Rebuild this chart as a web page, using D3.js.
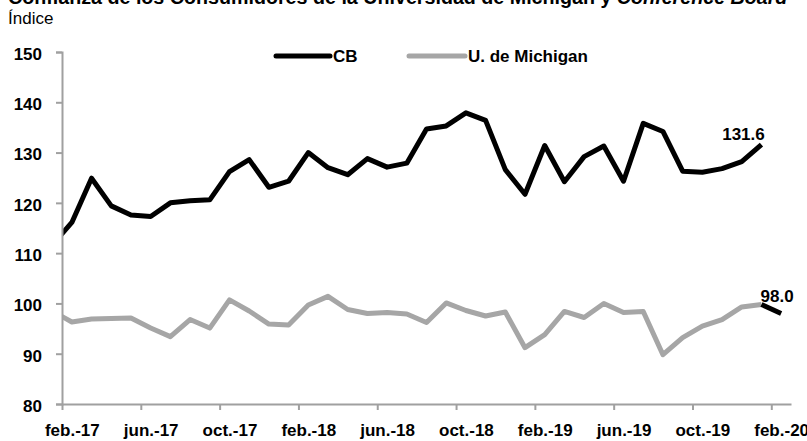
<!DOCTYPE html>
<html>
<head>
<meta charset="utf-8">
<script src="https://cdn.jsdelivr.net/npm/d3@7"></script>
<style>
  body { margin: 0; background: #fff; }
  svg { display: block; font-family: "Liberation Sans", Arial, sans-serif; }
</style>
</head>
<body>
<script>
// meses: ene.-17 queda fuera del área (se recorta en el eje), igual que el original
const months = [
  "ene.-17", "feb.-17", "mar.-17", "abr.-17", "may.-17", "jun.-17", "jul.-17", "ago.-17", "sep.-17", "oct.-17", "nov.-17", "dic.-17",
  "ene.-18", "feb.-18", "mar.-18", "abr.-18", "may.-18", "jun.-18", "jul.-18", "ago.-18", "sep.-18", "oct.-18", "nov.-18", "dic.-18",
  "ene.-19", "feb.-19", "mar.-19", "abr.-19", "may.-19", "jun.-19", "jul.-19", "ago.-19", "sep.-19", "oct.-19", "nov.-19", "dic.-19",
  "ene.-20", "feb.-20",
];

const cbValues = [
  111.6, 116.1, 124.9, 119.4, 117.6, 117.3, 120.0, 120.4, 120.6, 126.2, 128.6, 123.1,
  124.3, 130.0, 127.0, 125.6, 128.8, 127.1, 127.9, 134.7, 135.3, 137.9, 136.4, 126.6,
  121.7, 131.4, 124.2, 129.2, 131.3, 124.3, 135.8, 134.2, 126.3, 126.1, 126.8, 128.2,
  131.6,
];

const michiganValues = [
  98.5, 96.3, 96.9, 97.0, 97.1, 95.1, 93.4, 96.8, 95.1, 100.7, 98.5, 95.9,
  95.7, 99.7, 101.4, 98.8, 98.0, 98.2, 97.9, 96.2, 100.1, 98.6, 97.5, 98.3,
  91.2, 93.8, 98.4, 97.2, 100.0, 98.2, 98.4, 89.8, 93.2, 95.5, 96.8, 99.3,
  99.8, 98.0,
];

const tickLabels = ["feb.-17", "jun.-17", "oct.-17", "feb.-18", "jun.-18", "oct.-18", "feb.-19", "jun.-19", "oct.-19", "feb.-20"];
const yTicks = [80, 90, 100, 110, 120, 130, 140, 150];

const width = 807;
const height = 441;
const plot = { left: 62, right: 791, top: 52, bottom: 404 };
const gray = "#a6a6a6";
const axisGray = "#a0a0a0";

const svg = d3
  .select("body")
  .append("svg")
  .attr("width", width)
  .attr("height", height);

// índice de mes -> centro de la categoría (feb.-17 = 1)
const x = d3
  .scaleLinear()
  .domain([0.5, months.length - 0.5])
  .range([plot.left, plot.right]);

const y = d3.scaleLinear().domain([80, 150]).range([plot.bottom, plot.top]);

// título (cortado arriba en el original)
const title = svg
  .append("text")
  .attr("x", 8)
  .attr("y", 4)
  .attr("font-size", 18)
  .attr("font-weight", "bold")
  .attr("fill", "#000");
title.append("tspan").text("Confianza de los Consumidores de la Universidad de Michigan y ");
title.append("tspan").attr("font-style", "italic").text("Conference Board");
const tl = title.node().getComputedTextLength();
title.attr("font-size", (18 * 780) / tl);

svg
  .append("text")
  .attr("x", 8)
  .attr("y", 24)
  .attr("font-size", 17)
  .text("Índice");

svg
  .append("clipPath")
  .attr("id", "plot-clip")
  .append("rect")
  .attr("x", plot.left)
  .attr("y", 0)
  .attr("width", plot.right - plot.left)
  .attr("height", height);

const line = d3
  .line()
  .x((d, i) => x(i))
  .y((d) => y(d));

const lines = svg.append("g").attr("clip-path", "url(#plot-clip)");

lines
  .append("path")
  .datum(michiganValues.slice(0, michiganValues.length - 1))
  .attr("d", line)
  .attr("fill", "none")
  .attr("stroke", gray)
  .attr("stroke-width", 5)
  .attr("stroke-linejoin", "round");

// último tramo de Michigan resaltado en negro
const lastIdx = michiganValues.length - 1;
lines
  .append("path")
  .attr("d", d3.line()([
    [x(lastIdx - 1), y(michiganValues[lastIdx - 1])],
    [x(lastIdx), y(michiganValues[lastIdx])],
  ]))
  .attr("fill", "none")
  .attr("stroke", "#000")
  .attr("stroke-width", 5);

lines
  .append("path")
  .datum(cbValues)
  .attr("d", line)
  .attr("fill", "none")
  .attr("stroke", "#000")
  .attr("stroke-width", 5)
  .attr("stroke-linejoin", "round");

// ejes
const yAxis = d3
  .axisLeft(y)
  .tickValues(yTicks)
  .tickSize(6)
  .tickPadding(14)
  .tickFormat(d3.format("d"));

const yg = svg.append("g").attr("transform", `translate(${plot.left},0)`).call(yAxis);
yg.selectAll("path, line").attr("stroke", axisGray).attr("stroke-width", 2);
yg.selectAll("text")
  .attr("dy", "0.43em")
  .attr("font-size", 17)
  .attr("font-weight", "bold")
  .attr("font-family", "Liberation Sans, Arial, sans-serif")
  .attr("fill", "#000");

const tickIdx = tickLabels.map((t) => months.indexOf(t));

const xTicks = d3
  .axisBottom(x)
  .tickValues(tickIdx.map((i) => i - 0.5))
  .tickSize(6)
  .tickSizeOuter(0)
  .tickFormat("");

const xg = svg.append("g").attr("transform", `translate(0,${plot.bottom})`).call(xTicks);
xg.selectAll("path, line").attr("stroke", axisGray).attr("stroke-width", 2);

const xLabels = d3
  .axisBottom(x)
  .tickValues(tickIdx)
  .tickSize(0)
  .tickPadding(20)
  .tickFormat((i) => months[i]);

const xl = svg.append("g").attr("transform", `translate(0,${plot.bottom})`).call(xLabels);
xl.select(".domain").remove();
xl.selectAll("text")
  .attr("font-size", 17)
  .attr("font-weight", "bold")
  .attr("font-family", "Liberation Sans, Arial, sans-serif")
  .attr("fill", "#000");

// etiquetas de último dato
const cbLast = cbValues.length - 1;
svg
  .append("text")
  .attr("x", x(cbLast) - 18)
  .attr("y", y(cbValues[cbLast]) - 5)
  .attr("text-anchor", "middle")
  .attr("font-size", 17)
  .attr("font-weight", "bold")
  .text(cbValues[cbLast].toFixed(1));

svg
  .append("text")
  .attr("x", x(lastIdx) - 4)
  .attr("y", y(michiganValues[lastIdx]) - 11)
  .attr("text-anchor", "middle")
  .attr("font-size", 17)
  .attr("font-weight", "bold")
  .text(michiganValues[lastIdx].toFixed(1));

// leyenda
const legend = [
  { name: "CB", color: "#000", x0: 276, x1: 330 },
  { name: "U. de Michigan", color: gray, x0: 409, x1: 465 },
];

const lg = svg
  .selectAll(".legend")
  .data(legend)
  .enter()
  .append("g")
  .attr("class", "legend");

lg.append("line")
  .attr("x1", (d) => d.x0)
  .attr("x2", (d) => d.x1)
  .attr("y1", 56)
  .attr("y2", 56)
  .attr("stroke", (d) => d.color)
  .attr("stroke-width", 5)
  .attr("stroke-linecap", "round");

lg.append("text")
  .attr("x", (d) => d.x1 + 3)
  .attr("y", 62)
  .attr("font-size", 17)
  .attr("font-weight", "bold")
  .text((d) => d.name);
</script>
</body>
</html>
